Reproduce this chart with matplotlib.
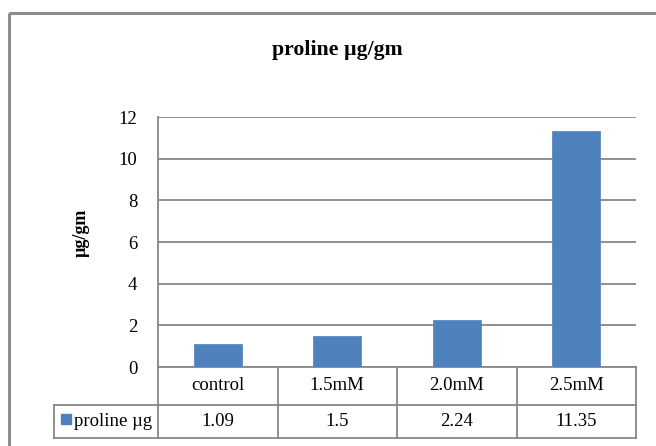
import matplotlib
matplotlib.use("Agg")
import matplotlib.pyplot as plt
from matplotlib.transforms import blended_transform_factory
from matplotlib.patches import Rectangle
from matplotlib.lines import Line2D

# Data
categories = ["control", "1.5mM", "2.0mM", "2.5mM"]
proline = [1.09, 1.5, 2.24, 11.35]
series_name = "proline µg"
yticks = [0, 2, 4, 6, 8, 10, 12]
value_labels = ["1.09", "1.5", "2.24", "11.35"]

plt.rcParams['font.family'] = ['Liberation Serif', 'DejaVu Serif']

W, H = 656, 446
fig = plt.figure(figsize=(W / 100, H / 100), dpi=100)

BAR = "#4F81BD"
GRID = "#878787"
FRAME = "#8C8C8C"
FS = 13.5

# pixel-space overlay for the chart frame and legend cell
ov = fig.add_axes([0, 0, 1, 1], zorder=0)
ov.set_xlim(0, W)
ov.set_ylim(H, 0)
ov.axis("off")
ov.add_patch(Rectangle((9, 13), W + 40, H + 40, fill=False,
                       edgecolor=FRAME, linewidth=2.2))

# plot area
px_left, px_right, px_top, px_bottom = 158, 636, 117, 367
ax = fig.add_axes([px_left / W, 1 - px_bottom / H,
                   (px_right - px_left) / W, (px_bottom - px_top) / H], zorder=1)
ax.patch.set_visible(False)

x = list(range(len(categories)))
ax.bar(x, proline, width=0.4, color=BAR, edgecolor="#5B8BC6", linewidth=0.6, zorder=3)
ax.set_xlim(-0.5, len(categories) - 0.5)
ax.set_ylim(0, 12)
ax.set_yticks(yticks)
ax.set_yticklabels([str(t) for t in yticks], fontsize=FS)
ax.tick_params(axis="y", length=0, pad=15)
ax.set_xticks([])
ax.grid(axis="y", color=GRID, linewidth=1.3, zorder=0)
for s in ["top", "right", "bottom"]:
    ax.spines[s].set_visible(False)
ax.spines["left"].set_color(GRID)
ax.spines["left"].set_linewidth(1.3)
ax.set_ylabel("µg/gm", fontsize=13, fontweight="bold")
ax.yaxis.set_label_coords(-0.142, 0.536)

# data table below the plot area
tr = blended_transform_factory(ax.transData, ax.transAxes)
unit_px = (px_right - px_left) / len(categories)
row1 = -(405 - px_bottom) / (px_bottom - px_top)
row2 = -(438 - px_bottom) / (px_bottom - px_top)
leg_left = -0.5 + (54 - px_left) / unit_px
lo, hi = -0.5, len(categories) - 0.5

def tline(xs, ys):
    ax.add_line(Line2D(xs, ys, transform=tr, color=GRID, linewidth=1.3,
                       clip_on=False, zorder=2))

tline([lo, hi], [0, 0])
tline([leg_left, hi], [row1, row1])
tline([leg_left, hi], [row2, row2])
tline([leg_left, leg_left], [row1, row2])
for b in [lo + i for i in range(len(categories) + 1)]:
    tline([b, b], [0, row2])

for i, (c, v) in enumerate(zip(categories, value_labels)):
    ax.text(i, row1 / 2, c, transform=tr, ha="center", va="center", fontsize=FS)
    ax.text(i, (row1 + row2) / 2, v, transform=tr, ha="center", va="center", fontsize=FS)

# legend key in the table's first column
ov.add_patch(Rectangle((61, 414), 9.5, 9.5, color=BAR))
ov.text(74, 421, series_name, ha="left", va="center", fontsize=FS)

# title
ov.text(337.5, 50, "proline µg/gm", ha="center", va="center", fontsize=15.7, fontweight="bold")

fig.savefig("out.png", dpi=100)
